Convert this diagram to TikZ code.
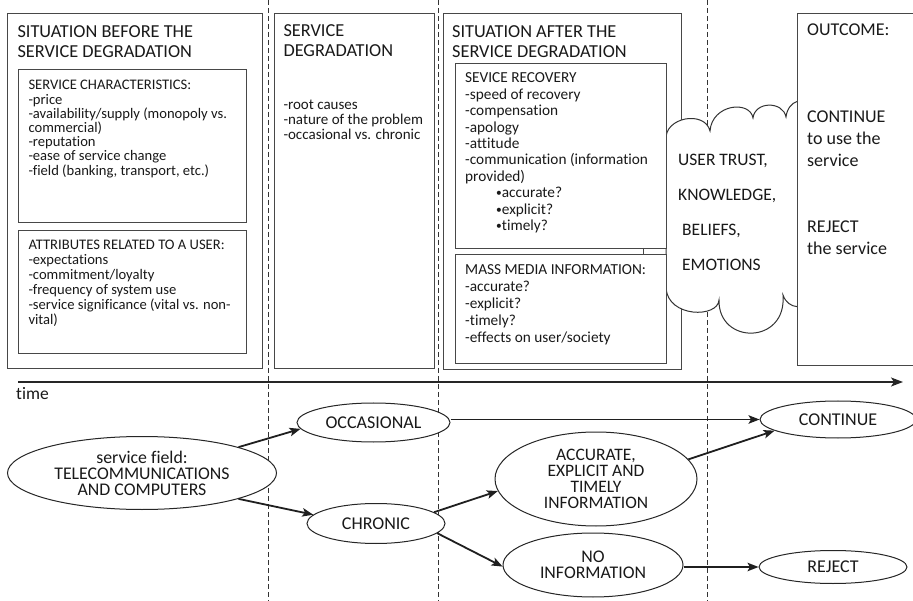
\documentclass[tikz,border=0pt]{standalone}
\usepackage{fontspec}
\setmainfont{Carlito}[Ligatures={NoCommon}]
\usetikzlibrary{arrows.meta,shapes.geometric}
\newcommand\smbul{\raisebox{0.8pt}{\scalebox{0.75}{\textbullet}}}
\begin{document}
\begin{tikzpicture}[x=1pt,y=-1pt,
  panel/.style={draw=black!72, line width=1.1pt, fill=white, anchor=north west, inner sep=0pt, rectangle},
  txt/.style={anchor=base west, inner sep=0pt, text=black!90},
  oval/.style={ellipse, draw=black!85, line width=1pt, fill=white, inner sep=0pt, align=center, text=black!90},
  arr/.style={-{Stealth[length=11pt,width=8.5pt,inset=2.5pt]}, line width=1.8pt, draw=black!88},
  sepline/.style={draw=black!80, line width=1pt, dash pattern=on 5pt off 3pt},
  axis/.style={-{Stealth[length=12pt,width=9pt,inset=3pt]}, line width=1.8pt, draw=black!85},
  cloudline/.style={draw=black!80, line width=1pt, fill=white}
]
\useasboundingbox (0,0) rectangle (913,601);

% dashed separators
\coordinate (s1t) at (268,0);   \coordinate (s1b) at (268,601);
\coordinate (s2t) at (438,0);   \coordinate (s2b) at (438,601);
\coordinate (s3t) at (707,0);   \coordinate (s3b) at (707,601);
\draw[sepline] (s1t) -- (s1b);
\draw[sepline] (s2t) -- (s2b);
\draw[sepline] (s3t) -- (s3b);

% panels
\node[panel, minimum width=255pt, minimum height=355pt] (b1) at (7,13) {};
\node[panel, minimum width=228pt, minimum height=153pt] (b1a) at (18,69) {};
\node[panel, minimum width=228pt, minimum height=123pt] (b1b) at (18,230) {};
\node[panel, minimum width=160pt, minimum height=355pt] (b2) at (274,13) {};
\node[panel, minimum width=238pt, minimum height=356pt] (b3) at (443,13) {};

% cloud
\path[cloudline] (666,140)
  .. controls (664,117) and (705,110) .. (710,131)
  .. controls (712,104) and (750,100) .. (753,118)
  .. controls (755,101) and (783,101) .. (786,117)
  .. controls (788,100) and (805,95) .. (812,110)
  -- (812,298)
  .. controls (806,310) and (788,310) .. (783,295)
  .. controls (787,345) and (718,345) .. (719,300)
  .. controls (718,318) and (668,318) .. (666,288)
  -- cycle;

\node[panel, minimum width=211pt, minimum height=185pt] (b3a) at (455,63) {};
\node[panel, minimum width=211pt, minimum height=109pt] (b3b) at (455,254) {};
\draw[black!72, line width=1pt] (643,248) -- (643,254);
\node[panel, minimum width=120pt, minimum height=352pt] (b4) at (797,13) {};

% texts
\node[txt] (h1) at (17.3,38) {\parbox[t]{240pt}{\fontsize{18.3}{19.5}\selectfont SITUATION BEFORE THE\\SERVICE DEGRADATION}};
\node[txt] (t1a) at (28.3,90) {\parbox[t]{215pt}{\fontsize{14.6}{14.2}\selectfont SERVICE CHARACTERISTICS:\\-price\\-availability/supply (monopoly vs.\\commercial)\\-reputation\\-ease of service change\\-field (banking, transport, etc.)}};
\node[txt] (t1b) at (28.3,250) {\parbox[t]{215pt}{\fontsize{14.6}{15}\selectfont ATTRIBUTES RELATED TO A USER:\\-expectations\\-commitment/loyalty\\-frequency of system use\\-service significance (vital vs. non-\\vital)}};

\node[txt] (h2) at (283.3,37) {\parbox[t]{150pt}{\fontsize{18.3}{20}\selectfont SERVICE\\DEGRADATION}};
\node[txt] (t2) at (283.3,110) {\parbox[t]{150pt}{\fontsize{15}{15}\selectfont -root causes\\-nature of the problem\\-occasional vs. chronic}};

\node[txt] (h3) at (452,38) {\parbox[t]{225pt}{\fontsize{18.3}{19.5}\selectfont SITUATION AFTER THE\\SERVICE DEGRADATION}};
\node[txt] (t3a) at (465,83) {\parbox[t]{200pt}{\fontsize{15.3}{16.4}\selectfont SEVICE RECOVERY\\-speed of recovery\\-compensation\\-apology\\-attitude\\-communication (information\\provided)\\\hspace*{31pt}\smbul accurate?\\\hspace*{31pt}\smbul explicit?\\\hspace*{31pt}\smbul timely?}};
\node[txt] (t3b) at (465,275) {\parbox[t]{200pt}{\fontsize{15.3}{16.8}\selectfont MASS MEDIA INFORMATION:\\-accurate?\\-explicit?\\-timely?\\-effects on user/society}};

\node[txt] (tc) at (678,166) {\parbox[t]{120pt}{\fontsize{17.5}{34.7}\selectfont USER TRUST,\\KNOWLEDGE,\\\hspace*{4pt}BELIEFS,\\\hspace*{4pt}EMOTIONS}};

\node[txt] (h4) at (807,36) {\parbox[t]{100pt}{\fontsize{18}{22}\selectfont OUTCOME:}};
\node[txt] (t4a) at (807,123) {\parbox[t]{100pt}{\fontsize{18}{22}\selectfont CONTINUE\\to use the\\service}};
\node[txt] (t4b) at (807,233) {\parbox[t]{100pt}{\fontsize{18}{22}\selectfont REJECT\\the service}};

% time axis
\coordinate (t0) at (18,382);
\coordinate (t1) at (903,382);
\draw[axis] (t0) -- (t1);
\node[txt] (timelbl) at (16,400) {\fontsize{17.5}{20}\selectfont time};

% ellipses
\node[oval, minimum width=269pt, minimum height=73pt, font=\fontsize{17.8}{16}\selectfont] (sf) at (142,473) {service field:\\TELECOMMUNICATIONS\\AND COMPUTERS};
\node[oval, minimum width=153pt, minimum height=39pt, font=\fontsize{18}{16}\selectfont] (occ) at (373.5,422.5) {OCCASIONAL};
\node[oval, minimum width=138pt, minimum height=40pt, font=\fontsize{18}{16}\selectfont] (chr) at (376,523.5) {CHRONIC};
\node[oval, minimum width=202pt, minimum height=94pt, font=\fontsize{17.5}{15.8}\selectfont] (acc) at (596,479) {ACCURATE,\\EXPLICIT AND\\TIMELY\\INFORMATION};
\node[oval, minimum width=180pt, minimum height=64pt, font=\fontsize{17.8}{16}\selectfont] (noinf) at (593,565) {NO\\INFORMATION};
\node[oval, minimum width=156pt, minimum height=37pt, font=\fontsize{18}{16}\selectfont] (cont) at (838,419.5) {CONTINUE};
\node[oval, minimum width=148pt, minimum height=33pt, font=\fontsize{18}{16}\selectfont] (rej) at (833,567) {REJECT};

% arrows
\draw[arr] (sf.15) -- (occ.185);
\draw[arr] (sf.-15) -- (chr.172);
\draw[arr] (occ.east |- cont.west) -- (cont.west);
\draw[arr] (chr.11) -- (acc.187);
\draw[arr] (chr.-9) -- (noinf.181);
\draw[arr] (acc.12) -- (cont.190);
\draw[arr] (noinf.east |- rej.west) -- (rej.west);
\end{tikzpicture}
\end{document}
